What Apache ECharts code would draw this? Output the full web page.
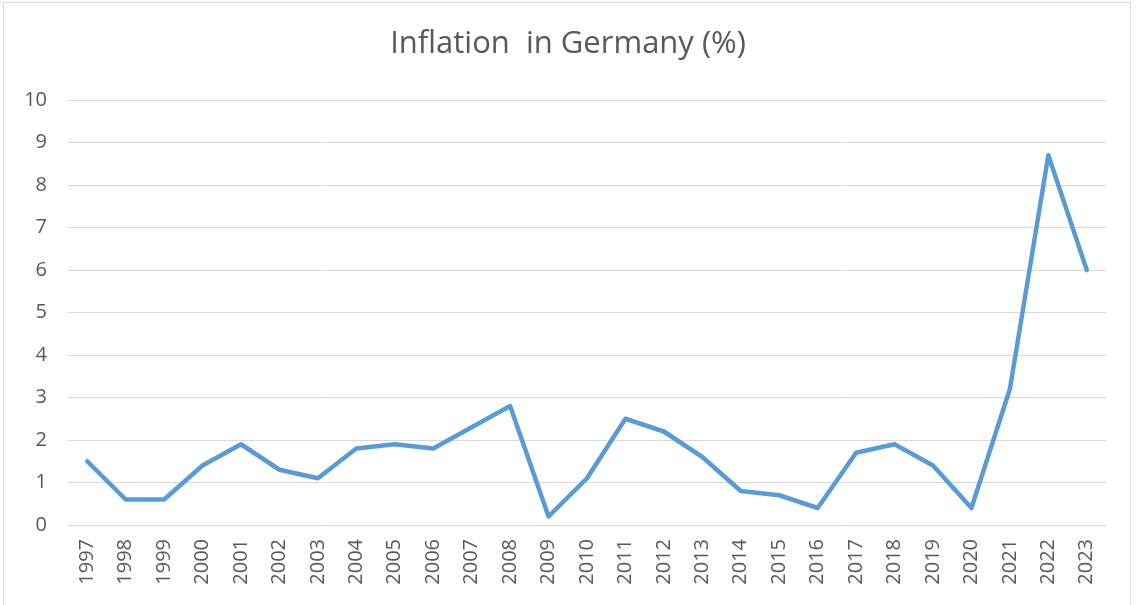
<!DOCTYPE html>
<html><head><meta charset="utf-8">
<script src="https://cdn.jsdelivr.net/npm/echarts@6/dist/echarts.min.js"></script>
<style>
html,body{margin:0;padding:0;background:#fff;}
#frame{position:absolute;left:3px;top:2px;width:1128px;height:610px;border:1px solid #d9d9d9;box-sizing:border-box;}
#c{position:absolute;left:0;top:0;width:1136px;height:605px;}
</style></head>
<body>
<div id="frame"></div>
<div id="c"></div>
<script>
const years = ['1997','1998','1999','2000','2001','2002','2003','2004','2005','2006','2007','2008','2009','2010','2011','2012','2013','2014','2015','2016','2017','2018','2019','2020','2021','2022','2023'];
const inflation = [1.5,0.6,0.6,1.4,1.9,1.3,1.1,1.8,1.9,1.8,2.3,2.8,0.2,1.1,2.5,2.2,1.6,0.8,0.7,0.4,1.7,1.9,1.4,0.4,3.2,8.7,6.0];
const titleText = 'Inflation  in Germany (%)';

const chart = echarts.init(document.getElementById('c'), null, {renderer:'canvas'});
chart.setOption({
  animation:false,
  title:{text:titleText,left:'center',top:24,textStyle:{fontFamily:'Open Sans',fontWeight:'normal',fontSize:31,color:'#595959'}},
  grid:{left:68,right:30,top:100,bottom:80},
  xAxis:{type:'category',data:years,boundaryGap:true,
    axisLine:{show:false},axisTick:{show:false},
    axisLabel:{rotate:90,fontFamily:'Open Sans',fontSize:20,color:'#595959',margin:14,interval:0}},
  yAxis:{type:'value',min:0,max:10,interval:1,
    axisLine:{show:false},axisTick:{show:false},
    splitLine:{lineStyle:{color:'#d9d9d9',width:1}},
    axisLabel:{fontFamily:'Open Sans',fontSize:20,color:'#595959',margin:21}},
  series:[{type:'line',data:inflation,showSymbol:false,symbol:'none',
    lineStyle:{color:'#5B9BD5',width:4.5,cap:'round',join:'round'}}]
});
</script>
</body></html>
